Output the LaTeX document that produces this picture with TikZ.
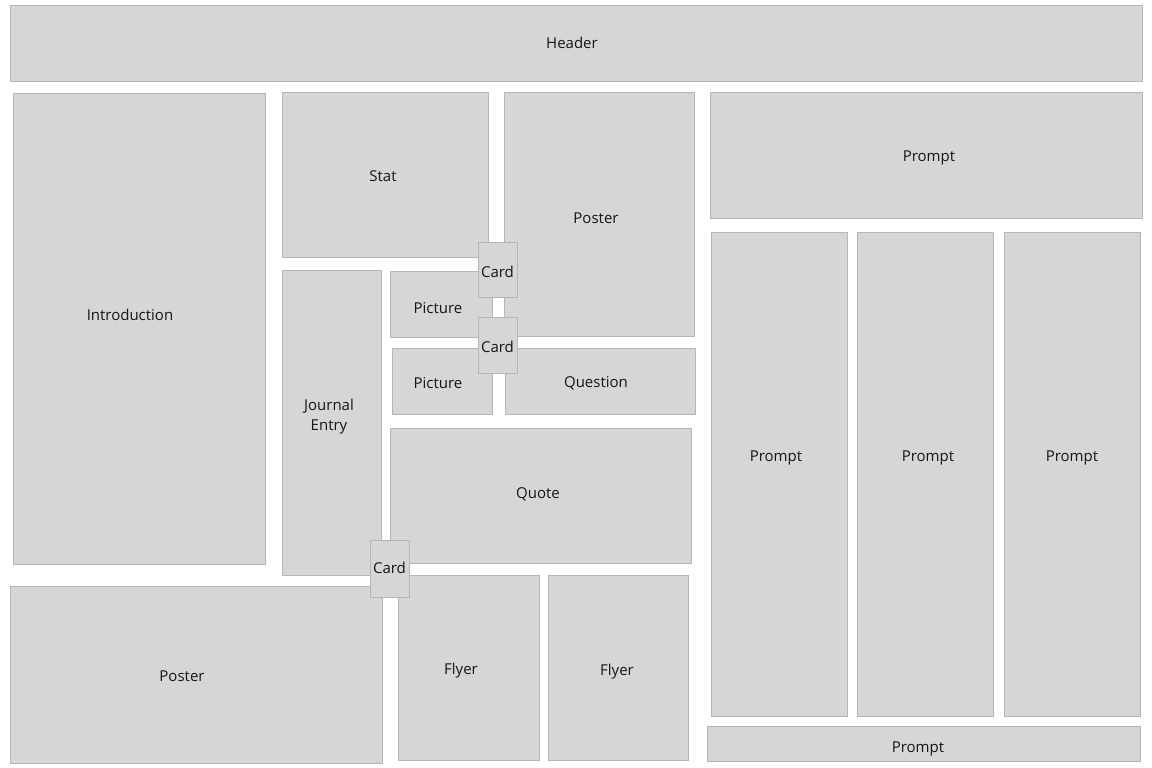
\documentclass[tikz,border=0pt]{standalone}
\usepackage{fontspec}
\setmainfont{Open Sans}
\definecolor{boxfill}{HTML}{D4D6D8}
\definecolor{boxline}{HTML}{B4B6B8}
\definecolor{txt}{HTML}{151515}
\begin{document}
\begin{tikzpicture}[x=1pt,y=-1pt,
  box/.style={fill=boxfill,draw=boxline,line width=0.9pt},
  lbl/.style={text=txt,font=\fontsize{15}{20}\selectfont,align=center,inner sep=0pt,yshift=-2pt}]
\useasboundingbox[fill=white] (0,0) rectangle (1152,768);
% boxes
\draw[box] (10,5) rectangle (1142,81);
\node[lbl] (header) at (572,41) {Header};
\draw[box] (13,93) rectangle (265,564);
\node[lbl] (intro) at (130,313) {Introduction};
\draw[box] (282,92) rectangle (488,257);
\node[lbl] (stat) at (383,174) {Stat};
\draw[box] (504,92) rectangle (694,336);
\node[lbl] (poster1) at (596,216) {Poster};
\draw[box] (710,92) rectangle (1142,218);
\node[lbl] (prompt0) at (929,156) {Prompt};
\draw[box] (282,270) rectangle (381,575);
\node[lbl] (journal) at (329,415) {Journal\\Entry};
\draw[box] (390,271) rectangle (492,337);
\node[lbl] (pic1) at (438,306) {Picture};
\draw[box] (392,348) rectangle (492,414);
\node[lbl] (pic2) at (438,381) {Picture};
\draw[box] (505,348) rectangle (695,414);
\node[lbl] (question) at (596,381) {Question};
\draw[box] (390,428) rectangle (691,563);
\node[lbl] (quote) at (538,492) {Quote};
\draw[box] (10,586) rectangle (382,763);
\node[lbl] (poster2) at (182,674) {Poster};
\draw[box] (398,575) rectangle (539,760);
\node[lbl] (flyer1) at (461,669) {Flyer};
\draw[box] (548,575) rectangle (688,760);
\node[lbl] (flyer2) at (617,670) {Flyer};
\draw[box] (711,232) rectangle (847,716);
\node[lbl] (prompt1) at (776,456) {Prompt};
\draw[box] (857,232) rectangle (993,716);
\node[lbl] (prompt2) at (928,456) {Prompt};
\draw[box] (1004,232) rectangle (1140,716);
\node[lbl] (prompt3) at (1072,456) {Prompt};
\draw[box] (707,726) rectangle (1140,761);
\node[lbl] (prompt4) at (918,747) {Prompt};
% cards on top
\draw[box] (478,242) rectangle (517,297);
\node[lbl] (card1) at (497.5,270) {Card};
\draw[box] (478,317) rectangle (517,373);
\node[lbl] (card2) at (497.5,345) {Card};
\draw[box] (370,540) rectangle (409,597);
\node[lbl] (card3) at (389.5,566) {Card};
\end{tikzpicture}
\end{document}
